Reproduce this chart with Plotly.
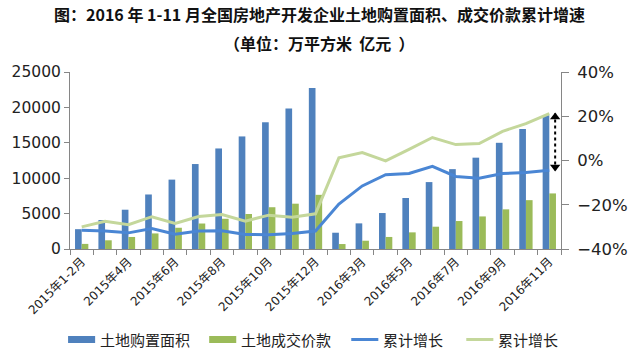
import plotly.graph_objects as go

# Month labels (2015-01/02 through 2016-11, Jan–Feb combined each year)
months = [
    "2015年1-2月", "2015年3月", "2015年4月", "2015年5月", "2015年6月", "2015年7月",
    "2015年8月", "2015年9月", "2015年10月", "2015年11月", "2015年12月",
    "2016年1-2月", "2016年3月", "2016年4月", "2016年5月", "2016年6月",
    "2016年7月", "2016年8月", "2016年9月", "2016年10月", "2016年11月",
]

# Cumulative land purchase area (万平方米)
land_area = [2800, 4100, 5550, 7700, 9800, 12000, 14200, 15900, 17900, 19850, 22750,
             2300, 3620, 5080, 7200, 9450, 11280, 12900, 15000, 16950, 18900]

# Cumulative land transaction value (亿元)
land_value = [720, 1230, 1700, 2200, 3000, 3600, 4270, 4940, 5900, 6400, 7650,
              700, 1170, 1700, 2350, 3150, 3950, 4600, 5600, 6900, 7850]

# Cumulative YoY growth (%) of area and of value
area_growth = [-31.5, -31.9, -32.7, -30.7, -33.3, -31.9, -31.8, -33.4, -33.6, -33.0, -31.9,
               -19.7, -11.5, -6.4, -5.9, -2.6, -7.2, -8.0, -5.9, -5.4, -4.4]
value_growth = [-30.0, -27.5, -29.0, -25.4, -28.4, -25.3, -24.4, -27.4, -24.7, -25.6, -24.1,
                1.2, 3.6, -0.2, 5.0, 10.4, 7.2, 7.7, 13.2, 16.7, 21.2]

legend_names = ["土地购置面积", "土地成交价款", "累计增长", "累计增长"]

x = list(range(len(months)))
label_idx = x[::2]

BLUE = "#4F81BD"
GREEN = "#9BBB59"
LINE_BLUE = "#4A86D4"
LINE_GREEN = "#C4D79B"
AXIS = "#868686"
FONT = "DejaVu Sans, Noto Sans CJK SC, sans-serif"
CJK = "Noto Sans CJK SC, sans-serif"

# Plot-area geometry in pixels (used to place the legend and titles)
W, H = 640, 350
ML, MR, MT, MB = 67, 65, 72, 101
PW, PH = W - ML - MR, H - MT - MB


def px(xpix):
    return (xpix - ML) / PW


def py(ypix):
    return (H - MB - ypix) / PH


fig = go.Figure()
fig.add_trace(go.Bar(x=x, y=land_area, name=legend_names[0], marker_color=BLUE,
                     marker_line_width=0, showlegend=False))
fig.add_trace(go.Bar(x=x, y=land_value, name=legend_names[1], marker_color=GREEN,
                     marker_line_width=0, showlegend=False))
fig.add_trace(go.Scatter(x=x, y=area_growth, name=legend_names[2], mode="lines",
                         line=dict(color=LINE_BLUE, width=3), yaxis="y2",
                         showlegend=False))
fig.add_trace(go.Scatter(x=x, y=value_growth, name=legend_names[3], mode="lines",
                         line=dict(color=LINE_GREEN, width=3), yaxis="y2",
                         showlegend=False))

# Dotted double-headed arrow showing the gap between the two growth rates
gap_x = x[-1] + 0.25
fig.add_trace(go.Scatter(x=[gap_x, gap_x], y=[value_growth[-1], area_growth[-1]],
                         mode="lines", line=dict(color="black", width=2, dash="dot"),
                         yaxis="y2", showlegend=False, hoverinfo="skip"))
fig.add_trace(go.Scatter(x=[gap_x, gap_x], y=[value_growth[-1] - 1.5, area_growth[-1] + 1.5],
                         mode="markers",
                         marker=dict(symbol=["triangle-up", "triangle-down"], size=9,
                                     color="black"),
                         yaxis="y2", showlegend=False, hoverinfo="skip"))

# Legend drawn below the axis: swatch + label for each series
legend_style = [("bar", BLUE), ("bar", GREEN), ("line", LINE_BLUE), ("line", LINE_GREEN)]
legend_x = [65, 211, 358, 477]
swatch_w = 28
legend_y = 339.5
shapes = []
annotations = []
for name, (kind, color), x0 in zip(legend_names, legend_style, legend_x):
    if kind == "bar":
        shapes.append(dict(type="rect", xref="paper", yref="paper",
                           x0=px(x0), x1=px(x0 + swatch_w),
                           y0=py(legend_y + 3.5), y1=py(legend_y - 3.5),
                           fillcolor=color, line_width=0))
    else:
        shapes.append(dict(type="line", xref="paper", yref="paper",
                           x0=px(x0), x1=px(x0 + swatch_w),
                           y0=py(legend_y), y1=py(legend_y),
                           line=dict(color=color, width=3)))
    annotations.append(dict(text=name, xref="paper", yref="paper",
                            x=px(x0 + swatch_w + 3), y=py(legend_y),
                            xanchor="left", yanchor="middle", showarrow=False,
                            font=dict(size=15, family=CJK, color="#222222")))

annotations += [
    dict(text="<b>图：2016 年 1-11 月全国房地产开发企业土地购置面积、成交价款累计增速</b>",
         xref="paper", yref="paper", x=px(325), y=py(14), xanchor="center",
         yanchor="middle", showarrow=False,
         font=dict(size=16, family=CJK, color="#111111")),
    dict(text="<b>（单位：万平方米  亿元  ）</b>",
         xref="paper", yref="paper", x=px(325), y=py(43), xanchor="center",
         yanchor="middle", showarrow=False,
         font=dict(size=16, family=CJK, color="#111111")),
]

fig.update_layout(
    width=W, height=H,
    margin=dict(l=ML, r=MR, t=MT, b=MB),
    paper_bgcolor="white", plot_bgcolor="white",
    barmode="group", bargap=0.43, bargroupgap=0,
    font=dict(family=FONT, color="#222222"),
    showlegend=False,
    xaxis=dict(range=[-0.5, len(months) - 0.5], tickmode="array",
               tickvals=label_idx, ticktext=[months[i] for i in label_idx],
               tickangle=-45, ticks="", tickfont=dict(size=12),
               showline=True, linecolor=AXIS, linewidth=1, showgrid=False,
               zeroline=False,
               minor=dict(tickmode="array",
                          tickvals=[i - 0.5 for i in range(len(months) + 1)],
                          ticks="outside", ticklen=5, tickcolor=AXIS, showgrid=False)),
    yaxis=dict(range=[0, 25000], dtick=5000, tickformat="d", showgrid=False,
               zeroline=False, showline=True, linecolor=AXIS, ticks="outside",
               ticklen=5, tickcolor=AXIS, tickfont=dict(size=15.5)),
    yaxis2=dict(range=[-40, 40], dtick=20, ticksuffix="%", overlaying="y",
                side="right", showgrid=False, zeroline=False, showline=True,
                linecolor=AXIS, ticks="outside", ticklen=7, tickcolor=AXIS,
                ticklabelstandoff=5, tickfont=dict(size=16.5)),
    shapes=shapes,
    annotations=annotations,
)

fig.write_html("out.html")
